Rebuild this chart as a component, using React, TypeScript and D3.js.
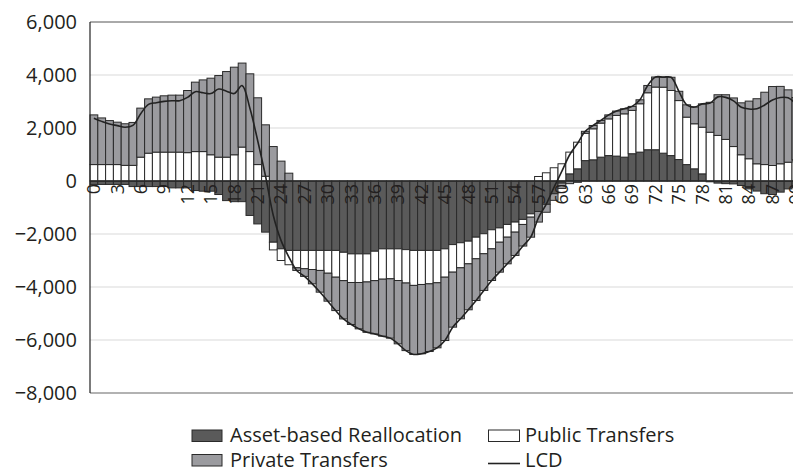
import React from "react";
import * as d3 from "d3";

const ages: number[] = d3.range(0, 91);

const assetBased: number[] = [
  -130, -130, -130, -130, -130, -210, -210, -210, -210, -210,
  -260, -260, -260, -360, -385, -385, -510, -740, -780, -780,
  -1300, -1620, -1930, -2310, -2560, -2620, -2620, -2620, -2620, -2620,
  -2620, -2620, -2690, -2750, -2750, -2750, -2650, -2560, -2560, -2560,
  -2590, -2620, -2620, -2620, -2620, -2560, -2400, -2330, -2270, -2120,
  -1990, -1840, -1770, -1640, -1550, -1450, -1240, -1150, -880, -480,
  -80, 270, 460, 770, 800, 900, 960, 940, 900, 1030,
  1090, 1180, 1180, 1050, 960, 810, 620, 460, 270, -30,
  -80, -100, -110, -170, -300, -380, -480, -510, -420, -300,
  -250,
];

const publicTransfers: number[] = [
  620, 620, 620, 620, 590, 590, 900, 1050, 1090, 1090,
  1090, 1090, 1070, 1110, 1110, 990, 900, 900, 990, 1280,
  1110, 620, 180, -290, -440, -540, -655, -690, -720, -755,
  -860, -1010, -1070, -1080, -1080, -1060, -1110, -1145, -1130, -1195,
  -1260, -1320, -1285, -1260, -1220, -1070, -1040, -945, -855, -815,
  -755, -720, -540, -480, -380, -190, -125, 170, 310, 500,
  650, 820, 1005, 1030, 1170, 1285, 1385, 1535, 1635, 1635,
  1825, 2150, 2365, 2490, 2455, 2225, 1790, 1700, 1760, 1840,
  1720, 1570, 1300, 990, 840, 650, 620, 585, 650, 710,
  800,
];

const privateTransfers: number[] = [
  1875, 1760, 1660, 1600, 1570, 1620, 1850, 2050, 2075, 2125,
  2150, 2150, 2345, 2620, 2705, 2890, 3080, 3230, 3305, 3170,
  2935, 2520, 1940, 1300, 750, 295, -100, -290, -540, -820,
  -1055, -1260, -1445, -1585, -1750, -1900, -2010, -2150, -2240, -2390,
  -2550, -2605, -2615, -2555, -2455, -2390, -2075, -1925, -1735, -1575,
  -1385, -1195, -1130, -1005, -880, -815, -755, -400, -300, -250,
  -200, -100, -50, 75, 125, 100, 150, 165, 190, 150,
  150, 275, 380, 380, 500, 350, 465, 630, 880, 1130,
  1535, 1685, 1835, 1960, 2175, 2455, 2730, 2980, 2920, 2730,
  2350,
];

const lcd: number[] = [
  2370, 2250, 2150, 2090, 2030, 2100, 2540, 2890, 2955, 3005,
  3030, 3030, 3155, 3370, 3330, 3300, 3470, 3390, 3300, 3600,
  2745, 1520, 190, -1300, -2250, -2870, -3375, -3600, -3880, -4195,
  -4535, -4890, -5205, -5415, -5580, -5710, -5770, -5855, -5930, -6145,
  -6400, -6545, -6520, -6435, -6295, -6020, -5515, -5200, -4860, -4510,
  -4130, -3755, -3440, -3125, -2810, -2455, -2120, -1380, -870, -230,
  370, 990, 1415, 1875, 2095, 2285, 2495, 2640, 2725, 2815,
  3065, 3605, 3925, 3920, 3915, 3385, 2875, 2790, 2910, 2940,
  3175, 3155, 3025, 2780, 2715, 2725, 2870, 3055, 3150, 3140,
  2900,
];

const yTicks: number[] = [-8000, -6000, -4000, -2000, 0, 2000, 4000, 6000];
const xTickAges: number[] = d3.range(0, 91, 3);

const seriesNames: string[] = ["Asset-based Reallocation", "Public Transfers", "Private Transfers"];
const seriesColors: string[] = ["#5a5a5a", "#ffffff", "#9b9b9f"];

const W = 793;
const H = 471;
const left = 90;
const step = 7.8;
const top = 22;
const bottom = 393;
const FONT = "'Open Sans', 'Noto Sans', sans-serif";

export default function App() {
  const x = d3
    .scaleBand<number>()
    .domain(ages)
    .range([left, left + step * ages.length])
    .padding(0);
  const y = d3.scaleLinear().domain([-8000, 6000]).range([bottom, top]);

  const rows = ages.map((a, i) => ({
    age: a,
    s0: assetBased[i],
    s1: publicTransfers[i],
    s2: privateTransfers[i],
  }));
  const stack = d3
    .stack<any>()
    .keys(["s0", "s1", "s2"])
    .offset(d3.stackOffsetDiverging);
  const stacked = stack(rows);

  const line = d3
    .line<number>()
    .x((_, i) => (x(ages[i]) as number) + x.bandwidth() / 2)
    .y((v) => y(v))
    .curve(d3.curveCatmullRom.alpha(0.5));

  const plotRight = left + step * ages.length;

  return (
    <svg
      width={W}
      height={H}
      style={{ position: "absolute", left: 0, top: 0, display: "block", background: "#fff" }}
      fontFamily={FONT}
    >
      {/* gridlines */}
      {yTicks
        .filter((t) => t !== -8000 && t !== 6000 && t !== 0)
        .map((t) => (
          <line key={t} x1={left} x2={plotRight} y1={y(t)} y2={y(t)} stroke="#d9d9d9" strokeWidth={1} />
        ))}
      {/* plot border */}
      <line x1={left} x2={plotRight} y1={top} y2={top} stroke="#555" strokeWidth={1} />
      <line x1={left} x2={plotRight} y1={bottom} y2={bottom} stroke="#666" strokeWidth={1.2} />
      {/* bars */}
      {stacked.map((layer, li) => (
        <g key={li} fill={seriesColors[li]} stroke="#2a2a2a" strokeWidth={1}>
          {layer.map((d, i) => {
            const y0 = y(d[0]);
            const y1 = y(d[1]);
            if (Math.abs(y0 - y1) < 0.01) return null;
            return (
              <rect
                key={i}
                x={x(ages[i]) as number}
                width={x.bandwidth()}
                y={Math.min(y0, y1)}
                height={Math.abs(y0 - y1)}
              />
            );
          })}
        </g>
      ))}
      {/* zero line */}
      <line x1={left} x2={plotRight} y1={y(0)} y2={y(0)} stroke="#2a2a2a" strokeWidth={1.5} />
      {/* LCD line */}
      <path d={line(lcd) || ""} fill="none" stroke="#222" strokeWidth={1.6} />
      {/* left axis */}
      <line x1={left} x2={left} y1={top} y2={bottom} stroke="#222" strokeWidth={1.2} />
      {/* y labels */}
      {yTicks.map((t) => (
        <text key={t} x={77} y={y(t)} dy="0.35em" textAnchor="end" fontSize={20} fill="#231f20">
          {d3.format(",")(t).replace("-", "\u2212")}
        </text>
      ))}
      {/* x labels */}
      {xTickAges.map((a) => {
        const cx = (x(a) as number) + x.bandwidth() / 2;
        return (
          <text
            key={a}
            transform={`translate(${cx},${y(0) + 3}) rotate(-90)`}
            dy="0.35em"
            textAnchor="end"
            fontSize={18}
            fill="#231f20"
          >
            {a}
          </text>
        );
      })}
      {/* legend */}
      <g fontSize={20} fill="#231f20">
        <rect x={192} y={430} width={30} height={11.5} fill={seriesColors[0]} stroke="#2a2a2a" />
        <text x={230} y={442}>{seriesNames[0]}</text>
        <rect x={488.5} y={430} width={31} height={11.5} fill={seriesColors[1]} stroke="#2a2a2a" />
        <text x={525} y={442}>{seriesNames[1]}</text>
        <rect x={192} y={454.5} width={30} height={11.5} fill={seriesColors[2]} stroke="#2a2a2a" />
        <text x={230} y={467}>{seriesNames[2]}</text>
        <line x1={488} x2={520} y1={463.5} y2={463.5} stroke="#222" strokeWidth={1.6} />
        <text x={525} y={467}>LCD</text>
      </g>
    </svg>
  );
}
